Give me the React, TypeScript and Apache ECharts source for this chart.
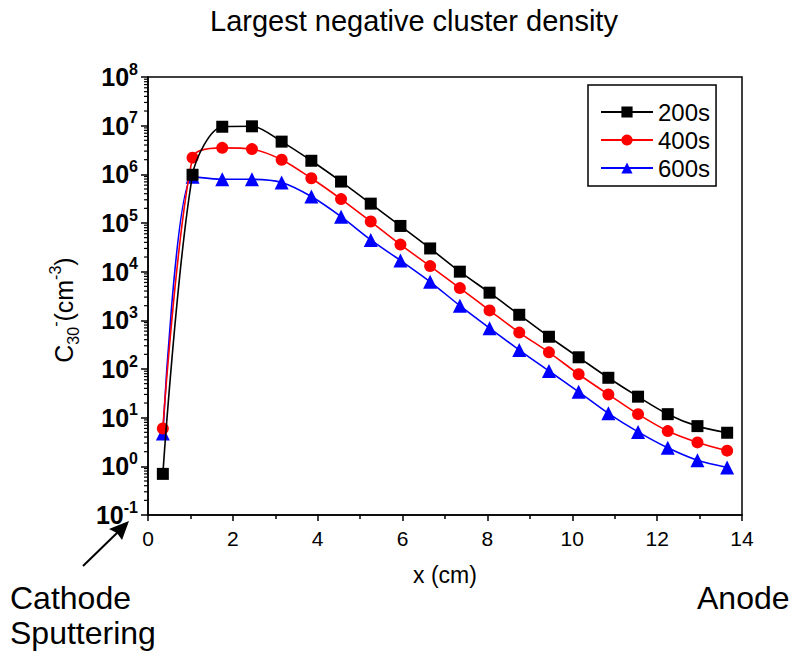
import React, { useEffect, useRef } from "react";
import * as echarts from "echarts";

const xValues = [0.35, 1.05, 1.75, 2.45, 3.15, 3.85, 4.55, 5.25, 5.95, 6.65, 7.35, 8.05, 8.75, 9.45, 10.15, 10.85, 11.55, 12.25, 12.95, 13.65];
const s200 = [0.7, 9.8e5, 9.5e6, 9.7e6, 4.7e6, 1.9e6, 7.1e5, 2.5e5, 8.7e4, 3.0e4, 1.0e4, 3.7e3, 1.3e3, 460, 174, 66, 27, 11.8, 6.7, 4.9];
const s400 = [6.0, 2.2e6, 3.5e6, 3.3e6, 2.0e6, 8.3e5, 3.1e5, 1.07e5, 3.6e4, 1.3e4, 4.6e3, 1.6e3, 560, 220, 78, 30, 11.8, 5.3, 3.1, 2.1];
const s600 = [4.7, 8.9e5, 7.9e5, 7.9e5, 6.8e5, 3.5e5, 1.35e5, 4.5e4, 1.7e4, 6.2e3, 2.0e3, 690, 245, 91, 34, 12.3, 5.1, 2.4, 1.33, 0.95];
const seriesNames = ["200s", "400s", "600s"];
const seriesColors = ["#000000", "#ff0000", "#0000ff"];
const seriesSymbols = ["rect", "circle", "triangle"];
const xTicks = [0, 2, 4, 6, 8, 10, 12, 14];
const yDecades = [-1, 0, 1, 2, 3, 4, 5, 6, 7, 8];

const FONT = "'Liberation Sans', Arial, sans-serif";

export default function App() {
  const ref = useRef<HTMLDivElement>(null);
  useEffect(() => {
    if (!ref.current) return;
    const chart = echarts.init(ref.current, null, { renderer: "svg" });

    const minorVals: number[][] = [];
    for (let k = yDecades[0]; k < yDecades[yDecades.length - 1]; k++) {
      for (let m = 2; m <= 9; m++) minorVals.push([0, m * Math.pow(10, k)]);
    }

    const allSeries = [s200, s400, s600];
    const series: any[] = allSeries.map((arr, i) => ({
      name: seriesNames[i],
      type: "line",
      data: xValues.map((x, j) => [x, arr[j]]),
      smooth: 0.3,
      symbol: seriesSymbols[i],
      symbolSize: i === 2 ? 14 : 12,
      lineStyle: { color: seriesColors[i], width: 1.6 },
      itemStyle: { color: seriesColors[i] },
      z: 3 + (2 - i),
    }));
    series.push({
      type: "custom",
      name: "minor",
      silent: true,
      clip: false,
      data: minorVals,
      renderItem: (params: any, api: any) => {
        const p = api.coord([api.value(0), api.value(1)]);
        return {
          type: "line",
          shape: { x1: p[0] - 4, y1: p[1], x2: p[0], y2: p[1] },
          style: { stroke: "#000", lineWidth: 1.2 },
        };
      },
    });

    chart.setOption({
      animation: false,
      grid: {
        left: 148,
        right: 50,
        top: 77,
        bottom: 137,
        show: true,
        borderColor: "#000",
        borderWidth: 1.5,
        containLabel: false,
      },
      legend: {
        data: seriesNames,
        orient: "vertical",
        left: 588,
        top: 85,
        padding: [15, 6, 6, 12],
        itemGap: 4,
        itemWidth: 52,
        itemHeight: 14,
        borderColor: "#000",
        borderWidth: 1.5,
        textStyle: { fontFamily: FONT, fontSize: 24, color: "#000", lineHeight: 24, padding: [0, 0, 0, 0] },
      },
      xAxis: {
        type: "value",
        min: xTicks[0],
        max: xTicks[xTicks.length - 1],
        interval: 2,
        name: "x (cm)",
        nameLocation: "middle",
        nameGap: 48,
        nameTextStyle: { fontFamily: FONT, fontSize: 23, color: "#000" },
        axisLine: { lineStyle: { color: "#000", width: 1.5 } },
        axisTick: { length: 6, lineStyle: { color: "#000", width: 1.5 } },
        minorTick: { show: true, splitNumber: 2, length: 4, lineStyle: { color: "#000", width: 1.5 } },
        splitLine: { show: false },
        axisLabel: { fontFamily: FONT, fontSize: 21, color: "#000", margin: 13 },
      },
      yAxis: {
        type: "log",
        logBase: 10,
        min: Math.pow(10, yDecades[0]),
        max: Math.pow(10, yDecades[yDecades.length - 1]),
        interval: 1,
        axisLine: { show: true, lineStyle: { color: "#000", width: 1.5 } },
        axisTick: { show: true, length: 7, lineStyle: { color: "#000", width: 1.5 } },
        splitLine: { show: false },
        axisLabel: {
          margin: 10,
          formatter: (v: number) => {
            const e = Math.round(Math.log10(v));
            return "{b|10}{s|" + e + "}";
          },
          rich: {
            b: { fontFamily: FONT, fontSize: 25, fontWeight: "bold", color: "#000", lineHeight: 32 },
            s: { fontFamily: FONT, fontSize: 16, fontWeight: "bold", color: "#000", lineHeight: 16, verticalAlign: "top" },
          },
        },
      },
      graphic: [
        {
          type: "text",
          x: 414,
          y: 21,
          style: { text: "Largest negative cluster density", fontFamily: FONT, fontSize: 29, fill: "#000", align: "center", verticalAlign: "middle" },
        },
        {
          type: "text",
          x: 64,
          y: 310,
          rotation: Math.PI / 2,
          style: {
            text: "{m|C}{sub|30}{sup|-}{m|(cm}{sup|-3}{m|)}",
            align: "center",
            verticalAlign: "middle",
            rich: {
              m: { fontFamily: FONT, fontSize: 25, color: "#000", lineHeight: 34 },
              sub: { fontFamily: FONT, fontSize: 16, color: "#000", lineHeight: 16, verticalAlign: "bottom" },
              sup: { fontFamily: FONT, fontSize: 16, color: "#000", lineHeight: 16, verticalAlign: "top" },
            },
          },
        },
        {
          type: "line",
          shape: { x1: 83, y1: 566, x2: 118, y2: 532 },
          style: { stroke: "#000", lineWidth: 2 },
        },
        {
          type: "polygon",
          shape: { points: [[129, 521], [122, 540], [117, 533], [109, 529]] },
          style: { fill: "#000" },
        },
        {
          type: "text",
          x: 10,
          y: 598,
          style: { text: "Cathode", fontFamily: FONT, fontSize: 32, lineHeight: 32, fill: "#000", verticalAlign: "middle" },
        },
        {
          type: "text",
          x: 10,
          y: 633,
          style: { text: "Sputtering", fontFamily: FONT, fontSize: 32, lineHeight: 32, fill: "#000", verticalAlign: "middle" },
        },
        {
          type: "text",
          x: 697,
          y: 598,
          style: { text: "Anode", fontFamily: FONT, fontSize: 32, lineHeight: 32, fill: "#000", verticalAlign: "middle" },
        },
      ],
      series,
    });
    return () => chart.dispose();
  }, []);
  return <div ref={ref} style={{ width: 792, height: 652, position: "absolute", left: 0, top: 0, background: "#fff" }} />;
}
